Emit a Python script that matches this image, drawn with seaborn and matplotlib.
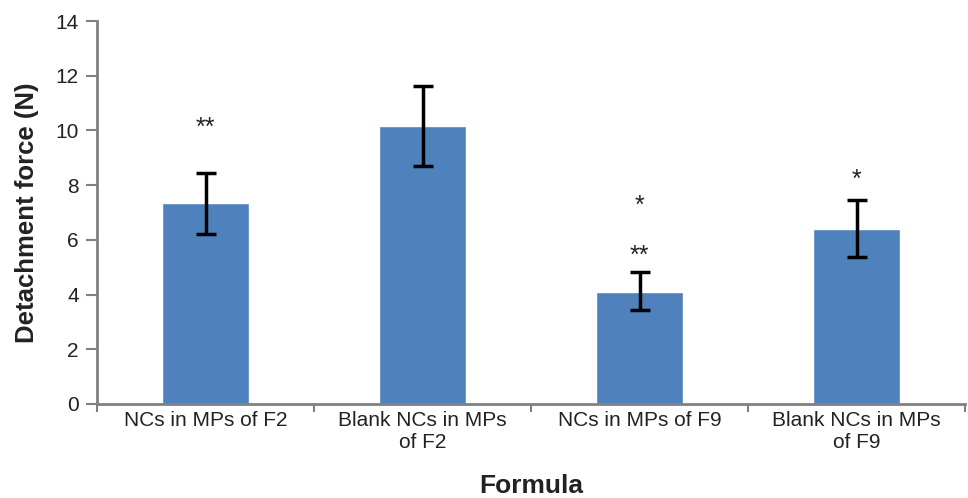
import matplotlib
matplotlib.use("Agg")
import matplotlib.pyplot as plt
import seaborn as sns
import pandas as pd
import numpy as np

categories = ["NCs in MPs of F2", "Blank NCs in MPs\nof F2", "NCs in MPs of F9", "Blank NCs in MPs\nof F9"]
force = [7.35, 10.16, 4.09, 6.40]
err_low = [1.13, 1.45, 0.67, 1.03]
err_high = [1.09, 1.46, 0.73, 1.06]
# significance marks: (category index, y position, text)
marks = [(0, 10.1, "**"), (2, 7.25, "*"), (2, 5.4, "**"), (3, 8.2, "*")]

sns.set_theme(style="white")
plt.rcParams["font.family"] = ["Liberation Sans", "DejaVu Sans"]

df = pd.DataFrame({"Formula": categories, "Force": force})

fig = plt.figure(figsize=(9.68, 4.98), dpi=100)
ax = fig.add_axes([0.1002, 0.1888, 0.897, 0.769])

sns.barplot(data=df, x="Formula", y="Force", color="#4F81BD", saturation=1,
            width=0.4, errorbar=None, ax=ax)
xs = np.arange(len(categories))
ax.errorbar(xs, force, yerr=[err_low, err_high], fmt="none", ecolor="black",
            elinewidth=2.5, capsize=7, capthick=2.5)

for i, y, t in marks:
    ax.text(i, y, t, ha="center", va="center", fontsize=18, color="#222222")

ax.set_ylim(0, 14)
ax.set_yticks(np.arange(0, 15, 2))
ax.set_xlim(-0.5, len(categories) - 0.5)
ax.set_xticks(np.arange(-0.5, len(categories), 1.0))
ax.set_xticklabels([])
ax.set_xticks(xs, minor=True)
ax.set_xticklabels(categories, minor=True, fontsize=15, color="#222222")
ax.tick_params(axis="x", which="minor", length=0, pad=5)
ax.tick_params(axis="x", which="major", length=6, width=1.5, color="#808080", direction="out", bottom=True)
ax.tick_params(axis="y", length=8, width=1.5, color="#808080", labelsize=15, labelcolor="#222222", left=True, direction="out", pad=5)

for s in ["top", "right"]:
    ax.spines[s].set_visible(False)
for s in ["left", "bottom"]:
    ax.spines[s].set_color("#808080")
    ax.spines[s].set_linewidth(2)

ax.set_xlabel("Formula", fontsize=19, fontweight="bold", color="#222222", labelpad=16)
ax.set_ylabel("Detachment force (N)", fontsize=18.5, fontweight="bold", color="#222222", labelpad=12)

fig.savefig("out.png", dpi=100)
